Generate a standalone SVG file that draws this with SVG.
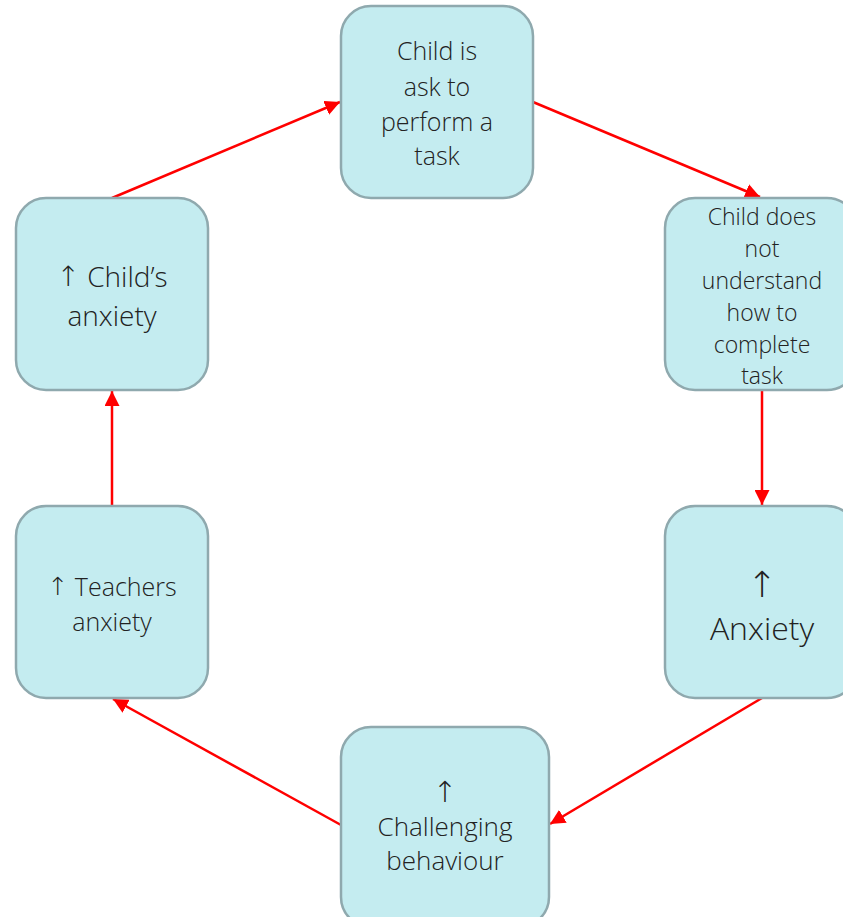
<svg xmlns="http://www.w3.org/2000/svg" width="843" height="917" viewBox="0 0 843 917">
<style>
.node rect{fill:#c4ecf0;stroke:#8fa9ae;stroke-width:2.5}
.node text{font-family:"Open Sans","Noto Sans","Liberation Sans",sans-serif;font-weight:300;fill:#222;text-anchor:middle;dominant-baseline:central}
.node .up{font-family:"DejaVu Sans","Liberation Sans",sans-serif;font-weight:200}
.conn line{stroke:#ff0000;stroke-width:2.5;marker-end:url(#ah)}
</style>
<defs>
<marker id="ah" viewBox="0 0 10 10" refX="10" refY="5" markerWidth="6" markerHeight="6" markerUnits="strokeWidth" orient="auto">
<path d="M0,0 L10,5 L0,10 z" fill="#ff0000"/>
</marker>
</defs>
<g id="connectors" class="conn">
<line x1="533" y1="102" x2="760" y2="197"/>
<line x1="762" y1="390" x2="762" y2="505"/>
<line x1="762" y1="698" x2="550" y2="824"/>
<line x1="341" y1="825" x2="113" y2="699"/>
<line x1="112" y1="506" x2="112" y2="391"/>
<line x1="112" y1="198" x2="340" y2="102"/>
</g>
<g id="n1" class="node">
<rect x="341" y="6" width="192" height="192" rx="30"/>
<text x="437" y="50" font-size="25">Child is</text>
<text x="437" y="86" font-size="25">ask to</text>
<text x="437" y="121" font-size="25">perform a</text>
<text x="437" y="155" font-size="25">task</text>
</g>
<g id="n2" class="node">
<rect x="665" y="198" width="192" height="192" rx="30"/>
<text x="762" y="216" font-size="23">Child does</text>
<text x="762" y="248" font-size="23">not</text>
<text x="762" y="280" font-size="23">understand</text>
<text x="762" y="312" font-size="23">how to</text>
<text x="762" y="344" font-size="23">complete</text>
<text x="762" y="375" font-size="23">task</text>
</g>
<g id="n3" class="node">
<rect x="665" y="506" width="192" height="192" rx="30"/>
<text x="762" y="584" font-size="36"><tspan class="up">↑</tspan></text>
<text x="762" y="627" font-size="32">Anxiety</text>
</g>
<g id="n4" class="node">
<rect x="341" y="727" width="208" height="200" rx="30"/>
<text x="445" y="792" font-size="29"><tspan class="up">↑</tspan></text>
<text x="445" y="826" font-size="26">Challenging</text>
<text x="445" y="860" font-size="26">behaviour</text>
</g>
<g id="n5" class="node">
<rect x="16" y="506" width="192" height="192" rx="30"/>
<text x="112" y="586" font-size="25"><tspan class="up">↑</tspan> Teachers</text>
<text x="112" y="621" font-size="25">anxiety</text>
</g>
<g id="n6" class="node">
<rect x="16" y="198" width="192" height="192" rx="30"/>
<text x="112" y="276" font-size="28"><tspan class="up">↑</tspan> Child’s</text>
<text x="112" y="315" font-size="28">anxiety</text>
</g>
</svg>
